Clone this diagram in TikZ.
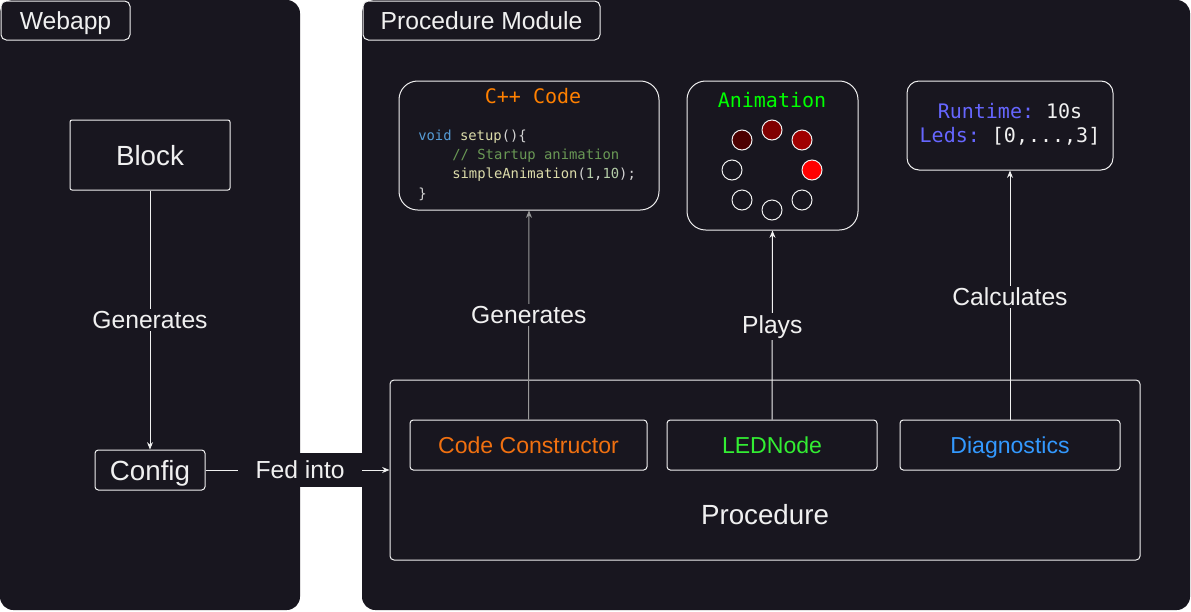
\documentclass[tikz,border=0pt]{standalone}
\usepackage{fontspec}
\setmainfont{Liberation Sans}
\setmonofont{DejaVu Sans Mono}
\usetikzlibrary{arrows.meta}
\definecolor{panel}{HTML}{18161F}
\definecolor{fg}{HTML}{F0F0F0}
\definecolor{orangeA}{HTML}{FF8000}
\definecolor{orangeB}{HTML}{F07010}
\definecolor{greenA}{HTML}{00FF00}
\definecolor{greenB}{HTML}{33EE33}
\definecolor{blueD}{HTML}{3399FF}
\definecolor{purp}{HTML}{6666FF}
\definecolor{kw}{HTML}{569CD6}
\definecolor{fn}{HTML}{DCDCAA}
\definecolor{cm}{HTML}{6A9955}
\definecolor{tx}{HTML}{D4D4D4}
\definecolor{nm}{HTML}{B5CEA8}
\definecolor{ledA}{HTML}{4C0000}
\definecolor{ledB}{HTML}{800000}
\definecolor{ledC}{HTML}{A00000}
\definecolor{ledD}{HTML}{FF0000}
\tikzset{
  fontA/.style={font=\fontsize{18.5}{20}\selectfont, text height=17.7pt, text depth=3.9pt},
  fontB/.style={font=\fontsize{20.8}{22}\selectfont, text height=19.4pt, text depth=4.4pt},
  fontC/.style={font=\fontsize{17.3}{19}\selectfont, text height=16.9pt, text depth=3.6pt},
  panelbox/.style={fill=panel, rounded corners=10pt},
  tagbox/.style={draw=fg, fill=panel, rounded corners=4pt, line width=0.75pt, text=fg, fontA},
  plainbox/.style={draw=fg, fill=panel, rounded corners=2.5pt, line width=0.75pt, text=fg},
  bigbox/.style={draw=fg, fill=panel, rounded corners=14pt, line width=0.75pt},
  midbox/.style={draw=fg, fill=panel, rounded corners=9pt, line width=0.75pt},
  lbl/.style={fill=panel, text=fg, font=\fontsize{18.5}{20}\selectfont, inner sep=1.5pt},
  conn/.style={draw=fg, line width=0.75pt, -{Stealth[length=5.5pt,width=4.5pt]}},
  connG/.style={draw=gray!80, line width=0.75pt, -{Stealth[length=5.5pt,width=4.5pt]}},
  led/.style={circle, draw=fg, line width=0.75pt, minimum size=15pt, inner sep=0pt},
  codeline/.style={anchor=west, inner sep=0pt, font=\ttfamily\fontsize{10.4}{12}\selectfont, text=tx},
}
\begin{document}
\begin{tikzpicture}[x=0.75pt,y=-0.75pt]
\useasboundingbox (0,0) rectangle (1191,611);
\fill[white] (0,0) rectangle (1191,611);
% panels
\path[panelbox] (0,0) rectangle (300,610);
\path[panelbox] (362,0) rectangle (1190,610);
% tags
\node[tagbox, minimum width=129*0.75pt, minimum height=39*0.75pt, inner ysep=0pt] (webapp) at (65.5,20.5) {Webapp};
\node[tagbox, minimum width=237*0.75pt, minimum height=39*0.75pt, inner ysep=0pt] (pmod) at (481.5,20.5) {Procedure Module};
% webapp side
\node[draw=fg, fill=panel, rounded corners=1.5pt, line width=0.75pt, text=fg, fontB, minimum width=160*0.75pt, minimum height=70*0.75pt] (block) at (150,155) {Block};
\node[plainbox, fontB, minimum width=110*0.75pt, minimum height=40*0.75pt, inner ysep=0pt] (config) at (150,470) {Config};
% procedure container
\node[draw=fg, fill=panel, rounded corners=3pt, line width=0.75pt, minimum width=750*0.75pt, minimum height=180*0.75pt] (proc) at (765,470) {};
\node[text=fg, font=\fontsize{20.8}{22}\selectfont, inner sep=0pt] (proclbl) at (765,515) {Procedure};
\node[plainbox, text=orangeB, fontC, minimum width=237*0.75pt, minimum height=50*0.75pt] (cc) at (528.5,445) {Code Constructor};
\node[plainbox, text=greenB, fontC, minimum width=210*0.75pt, minimum height=50*0.75pt] (ledn) at (772,445) {LEDNode};
\node[plainbox, text=blueD, fontC, minimum width=220*0.75pt, minimum height=50*0.75pt] (diag) at (1010,445) {Diagnostics};
% C++ code box
\node[bigbox, minimum width=260*0.75pt, minimum height=129*0.75pt] (cpp) at (529,145.5) {};
\node[text=orangeA, font=\ttfamily\fontsize{15}{17}\selectfont, inner sep=0pt] (cpptitle) at (533,96) {C++ Code};
\node[codeline] (c1) at (418,137) {\textcolor{kw}{void} \textcolor{fn}{setup}()\{};
\node[codeline] (c2) at (452,156) {\textcolor{cm}{// Startup animation}};
\node[codeline] (c3) at (452,175) {\textcolor{fn}{simpleAnimation}(\textcolor{nm}{1},\textcolor{nm}{10});};
\node[codeline] (c4) at (418,194) {\}};
% animation box
\node[bigbox, minimum width=171*0.75pt, minimum height=149*0.75pt] (anim) at (772.5,155.5) {};
\node[text=greenA, font=\ttfamily\fontsize{15}{17}\selectfont, inner sep=0pt] (animtitle) at (772,100) {Animation};
\node[led, fill=ledA] (l1) at (742,140) {};
\node[led, fill=ledB] (l2) at (772,130) {};
\node[led, fill=ledC] (l3) at (802,140) {};
\node[led, fill=ledD] (l4) at (812,170) {};
\node[led] (l5) at (802,200) {};
\node[led] (l6) at (772,210) {};
\node[led] (l7) at (742,200) {};
\node[led] (l8) at (732,170) {};
% runtime box
\node[midbox, minimum width=206*0.75pt, minimum height=89*0.75pt] (rt) at (1010,125.5) {};
\node[font=\ttfamily\fontsize{15}{18}\selectfont, align=center, inner sep=0pt, text=fg] (rttext) at (1010,124) {\textcolor{purp}{Runtime:} 10s\\\textcolor{purp}{Leds:} [0,...,3]};
% connectors
\draw[conn] (block.south) -- node[lbl, pos=0.5] (genA) {Generates} (config.north);
\draw[conn] (config.east) -- node[lbl, pos=0.514, minimum width=124*0.75pt, minimum height=34*0.75pt, inner sep=0pt] (fed) {Fed into} (proc.west);
\draw[connG] (cc.north) -- node[lbl, pos=0.5] (genB) {Generates} (cpp.south);
\draw[conn] (ledn.north) -- node[lbl, pos=0.49] (plays) {Plays} (anim.south);
\draw[conn] (diag.north) -- node[lbl, pos=0.493] (calc) {Calculates} (rt.south);
\end{tikzpicture}
\end{document}
